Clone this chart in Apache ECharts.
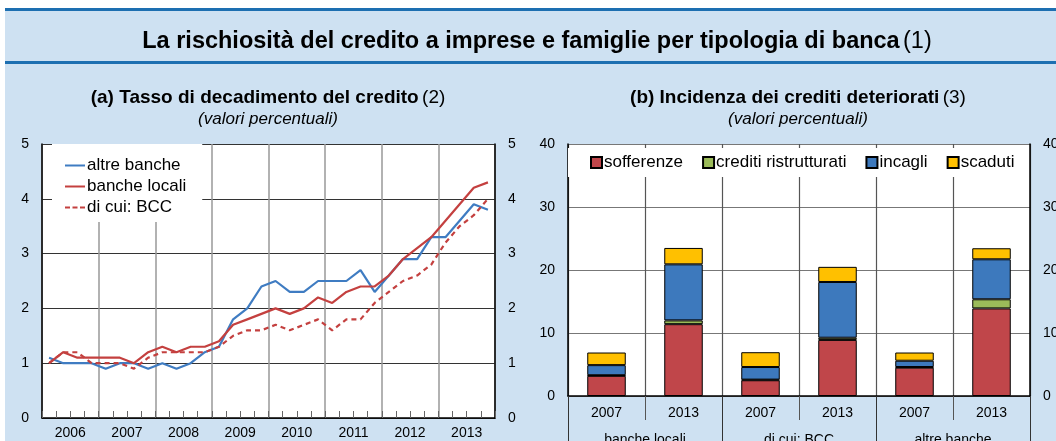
<!DOCTYPE html>
<html>
<head>
<meta charset="utf-8">
<script src="https://cdn.jsdelivr.net/npm/echarts@6/dist/echarts.min.js"></script>
<style>
  html, body { margin: 0; padding: 0; background: #fff; }
  #chart { width: 1056px; height: 441px; }
</style>
</head>
<body>
<div id="chart"></div>
<script>
// (a) tasso di decadimento, dati trimestrali 2006-2013
var years = ['2006', '2007', '2008', '2009', '2010', '2011', '2012', '2013'];
var quarters = [];
years.forEach(function (y) { ['T1', 'T2', 'T3', 'T4'].forEach(function (q) { quarters.push(y + q); }); });

var altreBanche = [1.1, 1.0, 1.0, 1.0, 0.9, 1.0, 1.0, 0.9, 1.0, 0.9, 1.0, 1.2, 1.3, 1.8, 2.0, 2.4,
  2.5, 2.3, 2.3, 2.5, 2.5, 2.5, 2.7, 2.3, 2.6, 2.9, 2.9, 3.3, 3.3, 3.6, 3.9, 3.8];
var bancheLocali = [1.0, 1.2, 1.1, 1.1, 1.1, 1.1, 1.0, 1.2, 1.3, 1.2, 1.3, 1.3, 1.4, 1.7, 1.8, 1.9,
  2.0, 1.9, 2.0, 2.2, 2.1, 2.3, 2.4, 2.4, 2.6, 2.9, 3.1, 3.3, 3.6, 3.9, 4.2, 4.3];
var diCuiBCC = [1.0, 1.2, 1.2, 1.0, 1.0, 1.0, 0.9, 1.1, 1.2, 1.2, 1.2, 1.2, 1.3, 1.5, 1.6, 1.6,
  1.7, 1.6, 1.7, 1.8, 1.6, 1.8, 1.8, 2.1, 2.3, 2.5, 2.6, 2.8, 3.2, 3.5, 3.7, 4.0];

// (b) incidenza dei crediti deteriorati
var barYears = ['2007', '2013', '2007', '2013', '2007', '2013'];
var groups = ['banche locali', 'di cui: BCC', 'altre banche'];
var sofferenze = [3.2, 11.4, 2.5, 8.9, 4.5, 13.9];
var ristrutturati = [0.1, 0.6, 0.1, 0.35, 0.1, 1.45];
var incagli = [1.6, 8.9, 2.0, 8.85, 1.0, 6.35];
var scaduti = [2.0, 2.6, 2.35, 2.4, 1.3, 1.75];

var BG = '#CEE1F2';
var FONT = 'Liberation Sans, Arial, sans-serif';
var BLUE = '#3F7CC2';
var RED = '#C4403F';

var chart = echarts.init(document.getElementById('chart'));

var lineY = function (pos) {
  return {
    type: 'value', gridIndex: 0, position: pos, min: 0, max: 5, interval: 1,
    axisLine: { show: true, lineStyle: { color: '#000', width: 1.5 } },
    axisTick: { show: false },
    axisLabel: { color: '#000', fontSize: 14, fontFamily: FONT, margin: 13 },
    splitLine: { show: pos === 'left', lineStyle: { color: '#333', width: 1 } }
  };
};
var barY = function (pos) {
  return {
    type: 'value', gridIndex: 1, position: pos, min: 0, max: 40, interval: 10,
    axisLine: { show: true, lineStyle: { color: '#000', width: 1.5 } },
    axisTick: { show: false },
    axisLabel: { color: '#000', fontSize: 14, fontFamily: FONT, margin: 13 },
    splitLine: { show: pos === 'left', lineStyle: { color: '#777', width: 1.2 } }
  };
};
var barSeries = function (name, data, color) {
  return {
    name: name, type: 'bar', stack: 'tot', xAxisIndex: 2, yAxisIndex: 2,
    barWidth: '50%', data: data,
    itemStyle: { color: color, borderColor: '#000', borderWidth: 1 }
  };
};
var titleText = function (x, y, bold, normal, size) {
  return {
    type: 'text', x: x, y: y,
    style: {
      text: '{b|' + bold + '} {n|' + normal + '}',
      align: 'center', verticalAlign: 'middle',
      rich: {
        b: { fontSize: size, fontWeight: 'bold', fontFamily: FONT, fill: '#000' },
        n: { fontSize: size, fontFamily: FONT, fill: '#000' }
      }
    }
  };
};

var option = {
  animation: false,
  textStyle: { fontFamily: FONT },
  graphic: [
    { type: 'rect', z: -10, shape: { x: 5, y: 8, width: 1051, height: 433 }, style: { fill: BG } },
    { type: 'rect', z: -9, shape: { x: 5, y: 8, width: 1051, height: 3 }, style: { fill: '#1D6FB1' } },
    { type: 'rect', z: -9, shape: { x: 5, y: 61, width: 1051, height: 3 }, style: { fill: '#1D6FB1' } },
    titleText(537, 42, 'La rischiosità del credito a imprese e famiglie per tipologia di banca', '(1)', 23.5),
    titleText(268, 98, '(a) Tasso di decadimento del credito', '(2)', 19),
    {
      type: 'text', x: 268, y: 119,
      style: { text: '(valori percentuali)', align: 'center', verticalAlign: 'middle',
        font: 'italic 17px ' + FONT, fill: '#000' }
    },
    titleText(798, 98, '(b) Incidenza dei crediti deteriorati', '(3)', 19),
    {
      type: 'text', x: 798, y: 119,
      style: { text: '(valori percentuali)', align: 'center', verticalAlign: 'middle',
        font: 'italic 17px ' + FONT, fill: '#000' }
    }
  ],
  grid: [
    { left: 42, right: 561, top: 144, bottom: 23, outerBoundsMode: 'none',
      show: true, backgroundColor: '#fff', borderWidth: 0 },
    { left: 568, right: 26, top: 144, bottom: 45, outerBoundsMode: 'none',
      show: true, backgroundColor: '#fff', borderWidth: 0 }
  ],
  legend: [
    {
      data: [
        { name: 'altre banche', icon: 'path://M0,0h20v2h-20z' },
        { name: 'banche locali', icon: 'path://M0,0h20v2h-20z' },
        { name: 'di cui: BCC', icon: 'path://M0,0h5v2h-5z M7.5,0h5v2h-5z M15,0h5v2h-5z' }
      ],
      orient: 'vertical', left: 52, top: 144,
      backgroundColor: '#fff', padding: [13, 16, 6, 13],
      itemWidth: 20, itemHeight: 2, itemGap: 4,
      textStyle: { fontSize: 17, color: '#000', fontFamily: FONT, padding: [0, 0, 0, -3] }
    },
    {
      data: ['sofferenze', 'crediti ristrutturati', 'incagli', 'scaduti'],
      orient: 'horizontal', left: 568, top: 148,
      backgroundColor: '#fff', padding: [6, 12, 6, 22],
      icon: 'rect', itemWidth: 11, itemHeight: 11, itemGap: 19,
      textStyle: { fontSize: 17, color: '#000', fontFamily: FONT, padding: [0, 0, 0, -3] }
    }
  ],
  xAxis: [
    {
      type: 'category', gridIndex: 0, data: quarters, boundaryGap: true, position: 'bottom',
      axisLine: { show: true, lineStyle: { color: '#000', width: 1.5 } },
      axisTick: { show: true, inside: true, length: 7, interval: 0, lineStyle: { color: '#666' } },
      axisLabel: { show: false },
      splitLine: { show: true, interval: 3, lineStyle: { color: '#999', width: 1.5 } }
    },
    {
      type: 'category', gridIndex: 0, data: years, boundaryGap: true, position: 'bottom',
      axisLine: { show: false }, axisTick: { show: false },
      axisLabel: { color: '#000', fontSize: 14, fontFamily: FONT, margin: 8 },
      splitLine: { show: false }
    },
    {
      type: 'category', gridIndex: 1, data: barYears, boundaryGap: true, position: 'bottom',
      axisLine: { show: true, lineStyle: { color: '#000', width: 1.5 } },
      axisTick: { show: true, length: 24, interval: 0, lineStyle: { color: '#555' } },
      axisLabel: { color: '#000', fontSize: 14, fontFamily: FONT, margin: 10, interval: 0 },
      splitLine: { show: true, interval: 0, lineStyle: { color: '#555', width: 1.2 } }
    },
    {
      type: 'category', gridIndex: 1, data: groups, boundaryGap: true, position: 'bottom',
      axisLine: { show: false },
      axisTick: { show: true, length: 50, interval: 0, lineStyle: { color: '#333' } },
      axisLabel: { color: '#000', fontSize: 14, fontFamily: FONT, margin: 37, interval: 0 },
      splitLine: { show: false }
    }
  ],
  yAxis: [lineY('left'), lineY('right'), barY('left'), barY('right')],
  series: [
    {
      name: 'altre banche', type: 'line', xAxisIndex: 0, yAxisIndex: 0, data: altreBanche,
      symbol: 'none', itemStyle: { color: BLUE }, lineStyle: { color: BLUE, width: 2.2 }
    },
    {
      name: 'banche locali', type: 'line', xAxisIndex: 0, yAxisIndex: 0, data: bancheLocali,
      symbol: 'none', itemStyle: { color: RED }, lineStyle: { color: RED, width: 2.2 }
    },
    {
      name: 'di cui: BCC', type: 'line', xAxisIndex: 0, yAxisIndex: 0, data: diCuiBCC,
      symbol: 'none', itemStyle: { color: RED },
      lineStyle: { color: RED, width: 2.2, type: [5, 4] }
    },
    barSeries('sofferenze', sofferenze, '#C0464A'),
    barSeries('crediti ristrutturati', ristrutturati, '#9BBB59'),
    barSeries('incagli', incagli, '#3D79BD'),
    barSeries('scaduti', scaduti, '#FFC000')
  ]
};

chart.setOption(option);
</script>
</body>
</html>
